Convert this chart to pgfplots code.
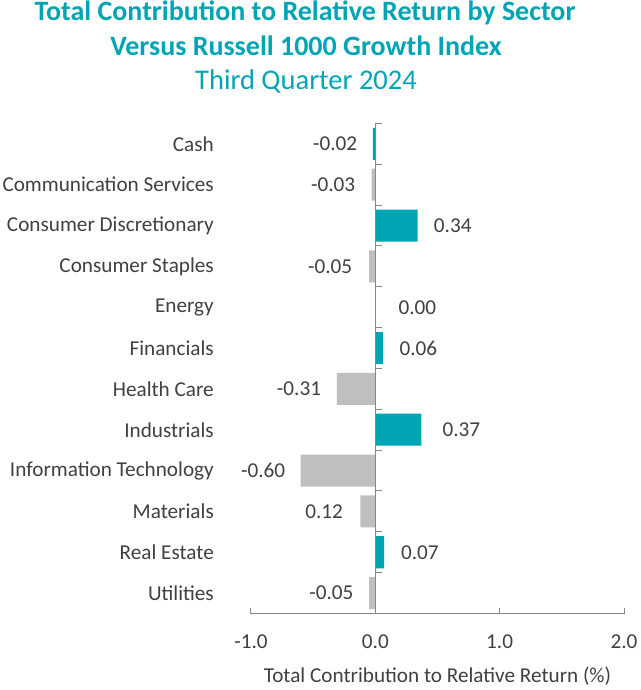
\documentclass[border=0pt]{standalone}
\usepackage{fontspec}
\setmainfont{Carlito}
\usepackage{pgfplots}
\pgfplotsset{compat=1.18}
\usepackage{pgfplotstable}
\definecolor{teal1}{HTML}{00A5B5}
\definecolor{bargray}{HTML}{BFBFBF}
\definecolor{axgray}{HTML}{868686}
\definecolor{txt}{HTML}{404040}

\pgfplotstableread{
y v
11 -0.02
9 0.34
6 0.06
4 0.37
1 0.07
}\tealdata
\pgfplotstableread{
y v
10 -0.03
8 -0.05
5 -0.31
3 -0.60
2 -0.12
0 -0.05
}\graydata
\pgfplotstableread{
y lx lab
11 -0.145 -0.02
10 -0.161 -0.03
8 -0.185 -0.05
5 -0.435 -0.31
3 -0.724 -0.60
2 -0.259 0.12
0 -0.174 -0.05
}\neglab
\pgfplotstableread{
y lx lab
9 0.47 0.34
7 0.185 0.00
6 0.193 0.06
4 0.539 0.37
1 0.206 0.07
}\poslab

\newcommand{\lblfont}{\fontsize{21.2}{25}\selectfont}

\begin{document}
\begin{tikzpicture}
\begin{axis}[
  name=ax,
  scale only axis, width=373pt, height=490pt,
  xmin=-1, xmax=2, ymin=-0.5, ymax=11.5,
  axis x line=bottom, axis y line=left,
  x axis line style={-, draw=axgray, line width=1pt},
  y axis line style={draw=none},
  xtick={-1,0,1,2}, xticklabels={-1.0,0.0,1.0,2.0},
  tick align=inside,
  x tick style={draw=axgray, line width=1pt},
  major tick length=6pt,
  ytick={0,...,11},
  yticklabels={Utilities,Real Estate,Materials,Information Technology,Industrials,Health Care,Financials,Energy,Consumer Staples,Consumer Discretionary,Communication Services,Cash},
  y tick style={draw=none},
  yticklabel style={anchor=east, inner sep=0pt, xshift=-37pt, font=\lblfont, text=txt},
  xticklabel style={anchor=base, inner sep=0pt, yshift=-34.5pt, font=\lblfont, text=txt},
  clip=false,
]
\addplot[xbar, bar width=32pt, bar shift=0pt, draw=none, fill=teal1] table[x=v, y=y] {\tealdata};
\addplot[xbar, bar width=32pt, bar shift=0pt, draw=none, fill=bargray] table[x=v, y=y] {\graydata};
\draw[axgray, line width=1pt] (axis cs:0,-0.5) -- (axis cs:0,11.5);
\pgfplotsinvokeforeach{0.5,1.5,...,11.5}{\draw[axgray, line width=1pt] (axis cs:0,#1) -- ([xshift=7pt]axis cs:0,#1);}
\addplot[draw=none, mark=none, nodes near coords, point meta=explicit symbolic,
  every node near coord/.style={anchor=east, inner sep=0pt, font=\lblfont, text=txt}]
  table[x=lx, y=y, meta=lab] {\neglab};
\addplot[draw=none, mark=none, nodes near coords, point meta=explicit symbolic,
  every node near coord/.style={anchor=west, inner sep=0pt, font=\lblfont, text=txt}]
  table[x=lx, y=y, meta=lab] {\poslab};
\end{axis}
\node[anchor=base, inner sep=0pt, font=\lblfont, text=txt] at ([shift={(186.5pt,-68.5pt)}]ax.south west) {Total Contribution to Relative Return (\%)};
\node[anchor=base, inner sep=0pt, text=teal1, font=\bfseries\fontsize{28}{30}\selectfont] at ([shift={(54pt,592.5pt)}]ax.south west) {Total Contribution to Relative Return by Sector};
\node[anchor=base, inner sep=0pt, text=teal1, font=\bfseries\fontsize{28}{30}\selectfont] at ([shift={(55pt,557.5pt)}]ax.south west) {Versus Russell 1000 Growth Index};
\node[anchor=base, inner sep=0pt, text=teal1, font=\fontsize{28.5}{30}\selectfont] at ([shift={(55pt,523.5pt)}]ax.south west) {Third Quarter 2024};
\path ([shift={(-251pt,-76.5pt)}]ax.south west) rectangle ([shift={(389pt,613.5pt)}]ax.south west);
\end{tikzpicture}
\end{document}
